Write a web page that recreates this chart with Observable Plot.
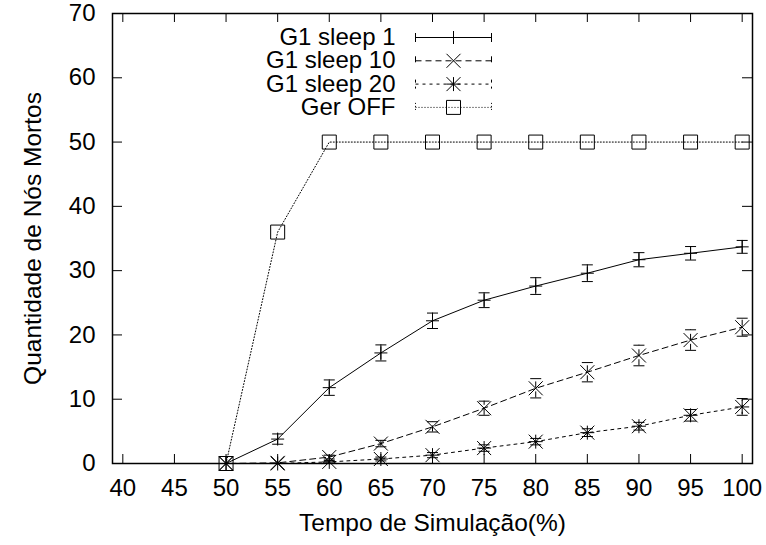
<!DOCTYPE html>
<html><head><meta charset="utf-8">
<script src="https://cdn.jsdelivr.net/npm/d3@7"></script>
<script src="https://cdn.jsdelivr.net/npm/@observablehq/plot@0.6"></script>
<style>body{margin:0;background:#fff}#chart{width:766px;height:545px}</style>
</head><body><div id="chart"></div>
<script>
// ---- data ----
const xValues   = [0, 50, 55, 60, 65, 70, 75, 80, 85, 90, 95, 100];
const sleep1    = [0, 0, 3.8, 11.8, 17.2, 22.2, 25.4, 27.6, 29.6, 31.7, 32.7, 33.7];
const sleep1Err = [0, 0, 0.8, 1.2, 1.25, 1.2, 1.15, 1.3, 1.3, 1.1, 1.05, 1.0];
const sleep10   = [0, 0, 0.1, 1.0, 3.1, 5.7, 8.6, 11.7, 14.2, 16.8, 19.2, 21.2];
const sleep10Err= [0, 0, 0, 0.3, 0.5, 0.8, 1.1, 1.5, 1.5, 1.6, 1.6, 1.4];
const sleep20   = [0, 0, 0, 0.25, 0.7, 1.3, 2.4, 3.4, 4.8, 5.8, 7.5, 8.8];
const sleep20Err= [0, 0, 0, 0.2, 0.3, 0.4, 0.5, 0.5, 0.6, 0.6, 0.9, 1.3];
const gerOff    = [0, 0, 36, 50, 50, 50, 50, 50, 50, 50, 50, 50];
const seriesNames = ["G1 sleep 1", "G1 sleep 10", "G1 sleep 20", "Ger OFF"];
const xTicks = [40, 45, 50, 55, 60, 65, 70, 75, 80, 85, 90, 95, 100];
const yTicks = [0, 10, 20, 30, 40, 50, 60, 70];
const xTitle = "Tempo de Simulação(%)";
const yTitle = "Quantidade de Nós Mortos";

// ---- table ----
const seriesY = [sleep1, sleep10, sleep20, gerOff];
const seriesE = [sleep1Err, sleep10Err, sleep20Err, null];
const rows = [];
seriesNames.forEach((s, k) => xValues.forEach((x, i) => rows.push({s, x, y: seriesY[k][i], err: seriesE[k] ? seriesE[k][i] : 0})));

// ---- symbols (stroke only, r = half size) ----
const R = size => Math.sqrt(size / Math.PI);
const plusSym  = {draw(c, s){const r=R(s); c.moveTo(-r,0); c.lineTo(r,0); c.moveTo(0,-r); c.lineTo(0,r);}};
const timesSym = {draw(c, s){const r=R(s); c.moveTo(-r,-r); c.lineTo(r,r); c.moveTo(-r,r); c.lineTo(r,-r);}};
const starSym  = {draw(c, s){const r=R(s); c.moveTo(-r,-r); c.lineTo(r,r); c.moveTo(-r,r); c.lineTo(r,-r); c.moveTo(-r,0); c.lineTo(r,0); c.moveTo(0,-r); c.lineTo(0,r);}};
const squareSym= {draw(c, s){const r=R(s); c.moveTo(-r,-r); c.lineTo(r,-r); c.lineTo(r,r); c.lineTo(-r,r); c.closePath();}};
const capSym   = {draw(c, s){const r=R(s); c.moveTo(-r,0); c.lineTo(r,0);}};
const keySym   = {draw(c, s){const r=R(s); c.moveTo(-r,0); c.lineTo(r,0); c.moveTo(-r,-4.5); c.lineTo(-r,4.5); c.moveTo(r,-4.5); c.lineTo(r,4.5);}};

const styles = [
  {dash: null,  sym: plusSym,   r: 6.5},
  {dash: "6,4", sym: timesSym,  r: 7},
  {dash: "3,4", sym: starSym,   r: 7},
  {dash: "1,2", sym: squareSym, r: 7}
];

const marks = [];
seriesNames.forEach((s, k) => {
  const st = styles[k];
  marks.push(Plot.line(rows, {filter: d => d.s === s, x: "x", y: "y", stroke: "black", strokeWidth: 1, strokeDasharray: st.dash, clip: true}));
  const eb = d => d.s === s && d.err > 0;
  marks.push(Plot.ruleX(rows, {filter: eb, x: "x", y1: d => d.y - d.err, y2: d => d.y + d.err, stroke: "black", strokeWidth: 1, strokeDasharray: st.dash}));
  marks.push(Plot.dot(rows, {filter: eb, x: "x", y: d => d.y - d.err, symbol: capSym, r: 5.5, stroke: "black", fill: "none", strokeWidth: 1}));
  marks.push(Plot.dot(rows, {filter: eb, x: "x", y: d => d.y + d.err, symbol: capSym, r: 5.5, stroke: "black", fill: "none", strokeWidth: 1}));
});
seriesNames.forEach((s, k) => {
  const st = styles[k];
  marks.push(Plot.dot(rows, {filter: d => d.s === s && d.x >= 39, x: "x", y: "y", symbol: st.sym, r: st.r, stroke: "black", fill: "none", strokeWidth: 1}));
});

// legend
seriesNames.forEach((s, k) => {
  const st = styles[k];
  const dy = 24 + k * 23.3;
  marks.push(Plot.text([s], {x: null, y: null, text: d => d, frameAnchor: "top-left", dx: 283, dy, textAnchor: "end", lineAnchor: "middle", fontSize: 24}));
  marks.push(Plot.dot([s], {x: null, y: null, frameAnchor: "top-left", dx: 341, dy, symbol: keySym, r: 38, stroke: "black", fill: "none", strokeWidth: 1, strokeDasharray: st.dash}));
  marks.push(Plot.dot([s], {x: null, y: null, frameAnchor: "top-left", dx: 341, dy, symbol: st.sym, r: st.r, stroke: "black", fill: "none", strokeWidth: 1}));
});

// axes / frame
marks.push(
  Plot.tickX(xTicks, {x: d => d, insetTop: 441, stroke: "black", strokeWidth: 1}),
  Plot.tickX(xTicks, {x: d => d, insetBottom: 441, stroke: "black", strokeWidth: 1}),
  Plot.tickY(yTicks, {y: d => d, insetRight: 630, stroke: "black", strokeWidth: 1}),
  Plot.tickY(yTicks, {y: d => d, insetLeft: 630, stroke: "black", strokeWidth: 1}),
  Plot.axisX({ticks: xTicks, tickSize: 0, tickPadding: 15, label: null, fontSize: 24}),
  Plot.axisY({ticks: yTicks, tickSize: 0, tickPadding: 17, label: null, fontSize: 24}),
  Plot.text([xTitle], {x: null, y: null, text: d => d, frameAnchor: "bottom", dy: 60, lineAnchor: "middle", fontSize: 24.5}),
  Plot.text([yTitle], {x: null, y: null, text: d => d, frameAnchor: "left", dx: -79, rotate: -90, textAnchor: "middle", lineAnchor: "middle", fontSize: 24.5}),
  Plot.frame({stroke: "black", strokeWidth: 1.5})
);

const chart = Plot.plot({
  width: 766, height: 545,
  marginLeft: 112, marginRight: 14, marginTop: 13, marginBottom: 82,
  x: {domain: [39, 101]},
  y: {domain: [0, 70]},
  style: {fontFamily: "'Liberation Sans', Arial, sans-serif", fontSize: "24px", background: "white", color: "black"},
  marks
});
document.getElementById("chart").append(chart);
</script>
</body></html>
